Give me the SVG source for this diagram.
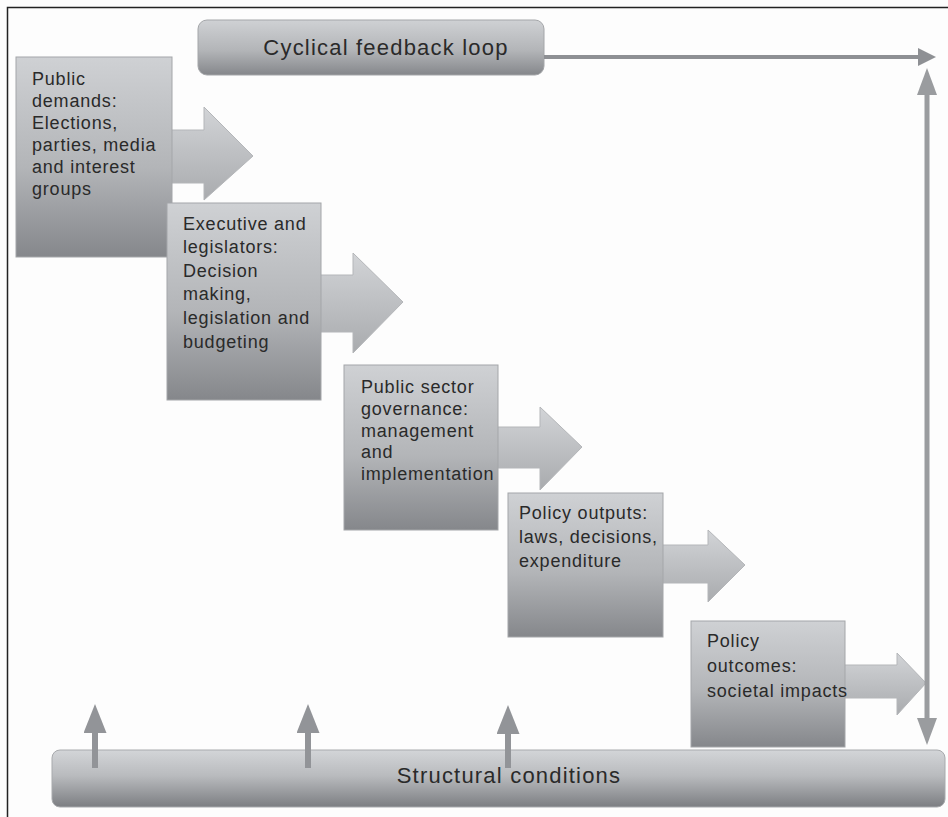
<svg xmlns="http://www.w3.org/2000/svg" width="948" height="817" viewBox="0 0 948 817">
<defs>
<linearGradient id="boxG" x1="0" y1="0" x2="0" y2="1">
<stop offset="0" stop-color="#cfd1d4"/>
<stop offset="0.55" stop-color="#b3b5b8"/>
<stop offset="1" stop-color="#85878b"/>
</linearGradient>
<linearGradient id="arrG" x1="0" y1="0" x2="0" y2="1">
<stop offset="0" stop-color="#d2d4d7"/>
<stop offset="1" stop-color="#a9abae"/>
</linearGradient>
<linearGradient id="barG" x1="0" y1="0" x2="0" y2="1">
<stop offset="0" stop-color="#d3d5d8"/>
<stop offset="0.45" stop-color="#b9bbbe"/>
<stop offset="1" stop-color="#7c7e82"/>
</linearGradient>
<marker id="hUp" markerUnits="userSpaceOnUse" viewBox="0 0 29 23" markerWidth="29" markerHeight="23" refX="2" refY="11.5" orient="auto">
<path d="M0,0 L29,11.5 L0,23 Z" fill="#929498"/>
</marker>
<marker id="hV" markerUnits="userSpaceOnUse" viewBox="0 0 27 20" markerWidth="27" markerHeight="20" refX="2" refY="10" orient="auto-start-reverse">
<path d="M0,0 L27,10 L0,20 Z" fill="#9a9c9f"/>
</marker>
<marker id="hH" markerUnits="userSpaceOnUse" viewBox="0 0 18 18" markerWidth="18" markerHeight="18" refX="2" refY="9" orient="auto">
<path d="M0,0 L18,9 L0,18 Z" fill="#8e9094"/>
</marker>
</defs>
<style>
.box{fill:url(#boxG);stroke:#a4a6a9;stroke-width:1}
.arr{fill:url(#arrG);stroke:#b4b6b9;stroke-width:1}
.t{font-family:"Liberation Sans",Arial,sans-serif;font-size:18px;fill:#2a2a2a;letter-spacing:0.8px}
.big{font-family:"Liberation Sans",Arial,sans-serif;font-size:22px;fill:#2a2a2a;letter-spacing:1.2px;text-anchor:middle}
.c{fill:none;stroke-linecap:butt}
</style>
<rect x="0" y="0" width="948" height="817" fill="#fdfdfd"/>
<path d="M7.5,817 V7.5 H948" fill="none" stroke="#222" stroke-width="1.5"/>

<g id="feedback">
<rect x="198" y="20" width="346" height="55" rx="9" fill="url(#boxG)" stroke="#a4a6a9"/>
<text class="big" x="386" y="55">Cyclical feedback loop</text>
</g>

<g id="structural">
<rect x="52" y="750" width="893" height="57" rx="8" fill="url(#barG)" stroke="#a8aaad"/>
<text class="big" x="509" y="783">Structural conditions</text>
</g>

<g id="node1">
<polygon class="arr" points="170,130 204,130 204,107 253,156 204,200 204,183 170,183"/>
<rect class="box" x="16" y="57" width="156" height="200"/>
<text class="t" x="32" y="85">Public</text>
<text class="t" x="32" y="107">demands:</text>
<text class="t" x="32" y="129">Elections,</text>
<text class="t" x="32" y="151">parties, media</text>
<text class="t" x="32" y="173">and interest</text>
<text class="t" x="32" y="195">groups</text>
</g>

<g id="node2">
<polygon class="arr" points="319,275 353,275 353,253 403,302 353,353 353,332 319,332"/>
<rect class="box" x="167" y="203" width="154" height="197"/>
<text class="t" x="183" y="230">Executive and</text>
<text class="t" x="183" y="253">legislators:</text>
<text class="t" x="183" y="277">Decision</text>
<text class="t" x="183" y="300">making,</text>
<text class="t" x="183" y="324">legislation and</text>
<text class="t" x="183" y="348">budgeting</text>
</g>

<g id="node3">
<polygon class="arr" points="496,427 540,427 540,407 582,447 540,490 540,468 496,468"/>
<rect class="box" x="344" y="365" width="154" height="165"/>
<text class="t" x="361" y="393">Public sector</text>
<text class="t" x="361" y="415">governance:</text>
<text class="t" x="361" y="437">management</text>
<text class="t" x="361" y="458">and</text>
<text class="t" x="361" y="480">implementation</text>
</g>

<g id="node4">
<polygon class="arr" points="661,545 708,545 708,530 745,565 708,602 708,583 661,583"/>
<rect class="box" x="508" y="493" width="155" height="144"/>
<text class="t" x="519" y="519">Policy outputs:</text>
<text class="t" x="519" y="543">laws, decisions,</text>
<text class="t" x="519" y="567">expenditure</text>
</g>

<g id="node5">
<polygon class="arr" points="843,665 897,665 897,653 926,683 897,715 897,698 843,698"/>
<rect class="box" x="691" y="621" width="154" height="126"/>
<text class="t" x="707" y="647">Policy</text>
<text class="t" x="707" y="672">outcomes:</text>
<text class="t" x="707" y="697">societal impacts</text>
</g>

<g id="connectors">
<line class="c" x1="544" y1="57" x2="920" y2="57" stroke="#8e9094" stroke-width="4" marker-end="url(#hH)"/>
<line class="c" x1="927" y1="93" x2="927" y2="720" stroke="#9a9c9f" stroke-width="5" marker-start="url(#hV)" marker-end="url(#hV)"/>
<line class="c" x1="95" y1="768" x2="95" y2="731" stroke="#929498" stroke-width="6" marker-end="url(#hUp)"/>
<line class="c" x1="308" y1="768" x2="308" y2="731" stroke="#929498" stroke-width="6" marker-end="url(#hUp)"/>
<line class="c" x1="508" y1="768" x2="508" y2="732" stroke="#929498" stroke-width="6" marker-end="url(#hUp)"/>
</g>
</svg>
